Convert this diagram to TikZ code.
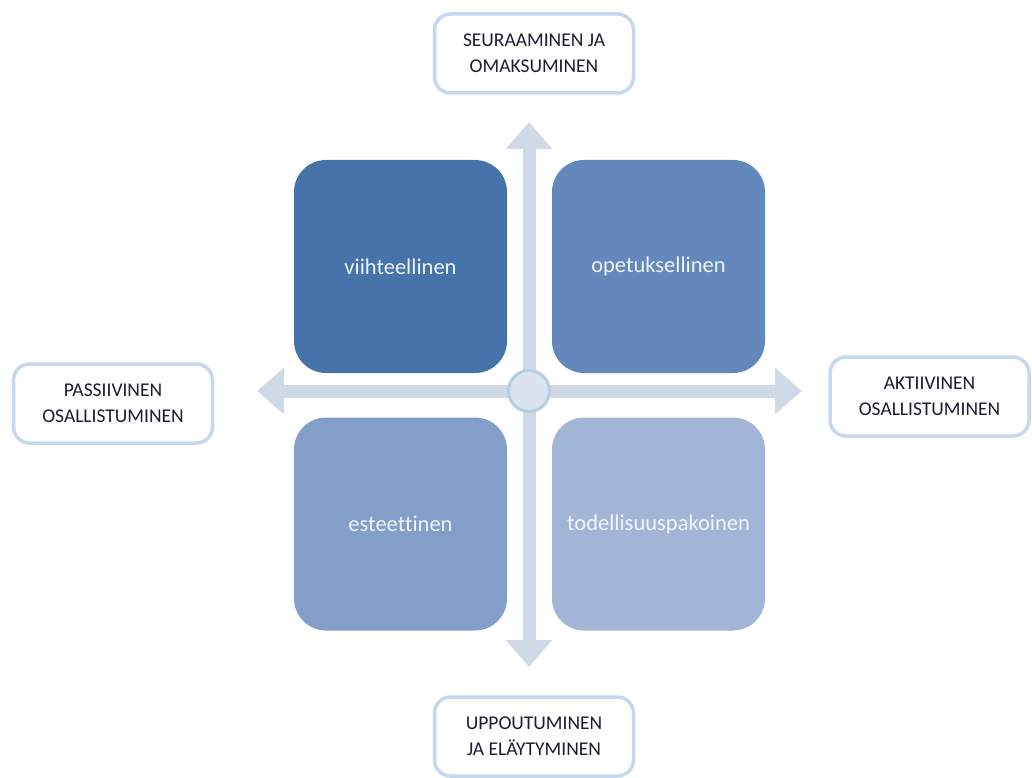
\documentclass[tikz,border=0pt]{standalone}
\usepackage{fontspec}
\setmainfont{Carlito}[Ligatures=NoCommon]
\usetikzlibrary{arrows.meta}
\definecolor{qa}{RGB}{69,115,170}
\definecolor{qb}{RGB}{99,137,188}
\definecolor{qc}{RGB}{131,158,200}
\definecolor{qd}{RGB}{163,181,214}
\definecolor{arrowcol}{RGB}{208,217,232}
\definecolor{hubfill}{RGB}{218,227,240}
\definecolor{hubline}{RGB}{184,204,228}
\definecolor{lblborder}{RGB}{198,215,239}
\definecolor{quadtext}{RGB}{240,244,251}
\definecolor{lbltext}{RGB}{28,28,48}
\begin{document}
\begin{tikzpicture}[x=1pt,y=-1pt,
  quad/.style={rounded corners=32pt, minimum width=213pt, minimum height=213pt, inner sep=0pt, text=quadtext, font=\fontsize{22.5}{26}\selectfont},
  lbl/.style={draw=lblborder, line width=3.5pt, rounded corners=16pt, fill=white, minimum width=199pt, minimum height=79pt, inner sep=0pt, align=center, text=lbltext, font=\fontsize{19.5}{26}\selectfont},
  axis/.style={draw=arrowcol, line width=13pt, {Triangle[length=27pt,width=45pt]}-{Triangle[length=27pt,width=45pt]}},
  hub/.style={circle, fill=hubfill, draw=hubline, line width=3pt, minimum size=41pt, inner sep=0pt}
]
\useasboundingbox (0,0) rectangle (1032,778);
\coordinate (L) at (257,391);
\coordinate (R) at (802,391);
\coordinate (T) at (529,122);
\coordinate (B) at (529,667);
\draw[axis] (L) -- (R);
\draw[axis] (T) -- (B);
\node[quad, fill=qa] (q1) at (400.5,266.5) {viihteellinen};
\node[quad, fill=qb] (q2) at (658.5,266.5) {opetuksellinen};
\node[quad, fill=qc] (q3) at (400.5,524) {esteettinen};
\node[quad, fill=qd] (q4) at (658.5,524) {todellisuuspakoinen};
\node[hub] (hub) at (529,391) {};
\node[lbl] (top) at (534,53.5) {SEURAAMINEN JA\\OMAKSUMINEN};
\node[lbl] (left) at (113,403.5) {PASSIIVINEN\\OSALLISTUMINEN};
\node[lbl] (right) at (929.5,396.5) {AKTIIVINEN\\OSALLISTUMINEN};
\node[lbl] (bottom) at (534,736.5) {UPPOUTUMINEN\\JA ELÄYTYMINEN};
\end{tikzpicture}
\end{document}
